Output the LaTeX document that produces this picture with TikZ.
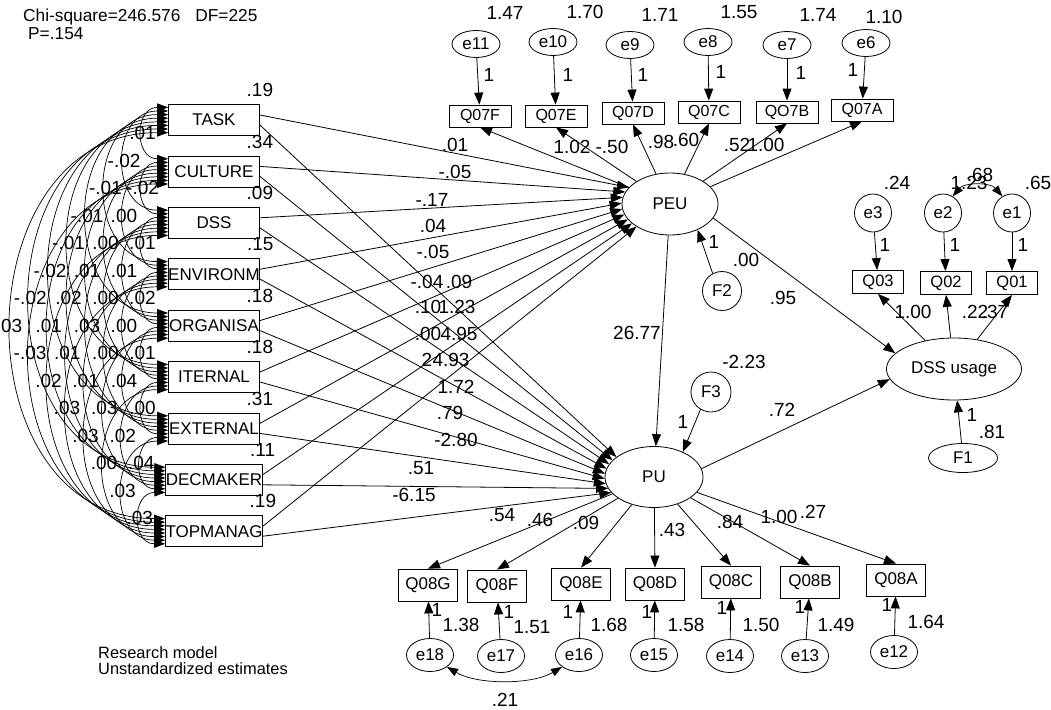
\documentclass[tikz,border=0pt]{standalone}
\usepackage{fontspec}
\setmainfont{Liberation Sans}
\usetikzlibrary{arrows.meta,shapes.geometric,calc}

\begin{document}
\begin{tikzpicture}[x=1pt, y=-1pt,
    every node/.style={font=\fontsize{17}{19}\selectfont},
    lbl/.style={inner sep=0pt, font=\fontsize{19}{21}\selectfont},
    obs/.style={draw, line width=.8pt, inner sep=0pt, minimum width=59pt, minimum height=32pt},
    exo/.style={obs, minimum width=91pt, minimum height=31pt},
    qsm/.style={obs, minimum width=62pt, minimum height=22pt, font=\fontsize{16}{18}\selectfont},
    qdss/.style={obs, minimum width=51pt, minimum height=23pt, font=\fontsize{16.5}{18}\selectfont},
    lat/.style={draw, ellipse, line width=.8pt, inner sep=0pt},
    reg/.style={line width=.8pt, -{Triangle[length=12pt,width=9pt]}},
    cov/.style={line width=.7pt, {Triangle[length=11pt,width=8pt]}-{Triangle[length=11pt,width=8pt]}},
  ]
  \useasboundingbox (0,0) rectangle (1051,709);

  \node[inner sep=0pt, anchor=west, font=\fontsize{17.3}{19}\selectfont] (chisq) at (23,17) {Chi-square=246.576\hspace{15pt}DF=225};
  \node[inner sep=0pt, anchor=west, font=\fontsize{17.3}{19}\selectfont] (pval) at (28,34) {P=.154};
  \node[inner sep=0pt, anchor=west, align=left, font=\fontsize{16.4}{16}\selectfont] (caption) at (98,661) {Research model\\Unstandardized estimates};

  % latent variables
  \node[lat, minimum width=96pt, minimum height=62pt] (peu) at (670,204) {PEU};
  \node[lat, minimum width=98pt, minimum height=61pt] (pu) at (654,477) {PU};
  \node[lat, minimum width=135pt, minimum height=62pt] (dssu) at (954,369) {DSS usage};
  \node[lat, minimum size=39pt] (f2) at (722,291) {F2};
  \node[lat, minimum size=40pt] (f3) at (711,392) {F3};
  \node[lat, minimum width=69pt, minimum height=29pt] (f1) at (963,458) {F1};

  % exogenous variables
  \foreach \nm/\v [count=\i from 0] in {TASK/.19, CULTURE/.34, DSS/.09, ENVIRONM/.15,
      ORGANISA/.18, ITERNAL/.18, EXTERNAL/.31, DECMAKER/.11, TOPMANAG/.19}{
    \node[exo] (ex\i) at (214,{120+51.4*\i}) {\nm};
    \node[lbl] at ($(ex\i.north east)+(0,-14)$) {\v};
  }

  % covariances
  \foreach \i/\j/\v in {0/1/.01, 0/2/-.02, 0/3/-.01, 1/2/-.02, 0/4/-.01, 1/3/.00,
      0/5/-.01, 1/4/.00, 2/3/.01, 0/6/-.02, 1/5/.01, 2/4/.01, 0/7/-.02, 1/6/.02,
      2/5/.00, 3/4/.02, 0/8/03, 1/7/.01, 2/6/.03, 3/5/.00, 1/8/-.03, 2/7/.01,
      3/6/.00, 4/5/.01, 2/8/.02, 3/7/.01, 4/6/.04, 3/8/.03, 4/7/.03, 5/6/.00,
      4/8/.03, 5/7/.02, 5/8/.00, 6/7/.04, 6/8/.03, 7/8/.03}{
    \pgfmathsetmacro\cx{4/3*(7+18.5*(\j-\i))}
    \pgfmathsetmacro\oi{-12.6+3.6*(\j-1)}
    \pgfmathsetmacro\oj{-12.6+3.6*\i}
    \draw[cov] ($(ex\i.west)+(0,\oi)$) .. controls +(-\cx,0) and +(-\cx,0) .. ($(ex\j.west)+(0,\oj)$)
      node[lbl, midway] {\v};
  }

  % paths to PEU and PU
  \foreach \i/\vp/\xp/\yp/\vu/\xu/\yu in {0/.01/455/145/.09/459/282, 1/-.05/455/172/1.23/457/307,
      2/-.17/432/200/4.95/459/334, 3/.04/433/226/4.93/451/360, 4/-.05/433/252/1.72/456/387,
      5/-.04/427/282/.79/450/413, 6/.10/428/307/-2.80/456/440, 7/.00/428/334/.51/421/468,
      8/2/427/360/-6.15/414/495}{
    \pgfmathtruncatemacro\ta{158+7*\i}
    \pgfmathtruncatemacro\tu{152+6*\i}
    \draw[reg] ($(ex\i.east)+(0,-5)$) -- (peu.\ta) node[lbl] at (\xp,\yp) {\vp};
    \draw[reg] ($(ex\i.east)+(0,5)$) -- (pu.\tu) node[lbl] at (\xu,\yu) {\vu};
  }

  % PEU indicators
  \node[qsm] (q07f) at (480,116) {Q07F};
  \node[qsm] (q07e) at (556,116) {Q07E};
  \node[qsm] (q07d) at (633,113) {Q07D};
  \node[qsm] (q07c) at (709,112) {Q07C};
  \node[qsm] (q07b) at (787,112) {QO7B};
  \node[qsm] (q07a) at (862,110) {Q07A};
  \foreach \e/\x/\y in {11/476/44, 10/553/42, 9/630/45, 8/708/42, 7/787/45, 6/866/43}
    \node[lat, minimum width=48pt, minimum height=27pt] (e\e) at (\x,\y) {e\e};
  \foreach \e/\q/\lx/\ly/\v/\vx/\vy in {11/f/489/75/1.47/505/13, 10/e/568/75/1.70/585/12,
      9/d/643/75/1.71/660/15, 8/c/721/72/1.55/739/12, 7/b/801/73/1.74/818/15, 6/a/853/70/1.10/884/17}{
    \draw[reg] (e\e) -- (q07\q) node[lbl] at (\lx,\ly) {1};
    \node[lbl] at (\vx,\vy) {\v};
  }
  \foreach \q/\v/\lx/\ly in {f/1.02/572/147, e/-.50/612/147, d/.98/661/142, c/.60/686/140,
      b/.52/737/145, a/1.00/766/145}
    \draw[reg] (peu) -- (q07\q.south) node[lbl] at (\lx,\ly) {\v};

  % DSS usage indicators
  \node[qdss] (q03) at (878,282) {Q03};
  \node[qdss] (q02) at (946,283) {Q02};
  \node[qdss] (q01) at (1012,283) {Q01};
  \foreach \e/\x in {3/873, 2/943, 1/1012}
    \node[lat, minimum width=37pt, minimum height=38pt] (e\e) at (\x,213) {e\e};
  \foreach \e/\lx/\v/\vx in {3/885/.24/897, 2/955/1.23/969, 1/1023/.65/1038}{
    \draw[reg] (e\e) -- (q0\e) node[lbl] at (\lx,245) {1};
    \node[lbl] at (\vx,183) {\v};
  }
  \draw[cov] (e2.60) .. controls +(12,-14) and +(-12,-14) .. (e1.120) node[lbl] at (980,175) {.68};
  \foreach \q/\v/\lx in {3/1.00/913, 2/.22/975, 1/.37/995}
    \draw[reg] (dssu) -- (q0\q.south) node[lbl] at (\lx,312) {\v};
  \draw[reg] (f1) -- (dssu) node[lbl] at (972,415) {1};
  \node[lbl] at (992,432) {.81};

  % structural part
  \draw[reg] (f2.118) -- (peu.-43) node[lbl] at (714,242) {1};
  \node[lbl] at (746,260) {.00};
  \draw[reg] (peu) -- (pu) node[lbl] at (637,333) {26.77};
  \draw[reg] (peu.-18) -- (dssu.165) node[lbl] at (783,298) {.95};
  \draw[reg] (f3.239) -- (pu.41) node[lbl] at (683,422) {1};
  \node[lbl] at (744,362) {-2.23};
  \draw[reg] (pu.10) -- (dssu.189) node[lbl] at (782,410) {.72};

  % PU indicators
  \foreach \q/\x/\y in {g/428/585, f/497/586, e/581/584, d/655/584, c/731/582, b/810/582, a/896/580}
    \node[obs] (q08\q) at (\x,\y) {Q08\MakeUppercase{\q}};
  \foreach \e/\x/\y in {18/430/655, 17/501/656, 16/579/655, 15/654/655, 14/730/656, 13/805/656, 12/894/652}
    \node[lat, minimum width=47pt, minimum height=33pt] (e\e) at (\x,\y) {e\e};
  \foreach \q/\e/\lx/\ly/\v/\vx/\vy in {g/18/437/610/1.38/461/625, f/17/509/612/1.51/532/627,
      e/16/568/612/1.68/609/625, d/15/647/612/1.58/686/625, c/14/722/608/1.50/761/625,
      b/13/800/607/1.49/836/625, a/12/887/605/1.64/926/622}{
    \draw[reg] (e\e) -- (q08\q) node[lbl] at (\lx,\ly) {1};
    \node[lbl] at (\vx,\vy) {\v};
  }
  \foreach \q/\v/\lx/\ly in {g/.54/502/515, f/.46/540/520, e/.09/586/523, d/.43/672/530,
      c/.84/730/522, b/1.00/779/517, a/.27/813/512}
    \draw[reg] (pu) -- (q08\q.north) node[lbl] at (\lx,\ly) {\v};
  \draw[cov] (e18.-35) .. controls +(30,18) and +(-30,18) .. (e16.-145) node[lbl] at (505,700) {.21};
\end{tikzpicture}
\end{document}
